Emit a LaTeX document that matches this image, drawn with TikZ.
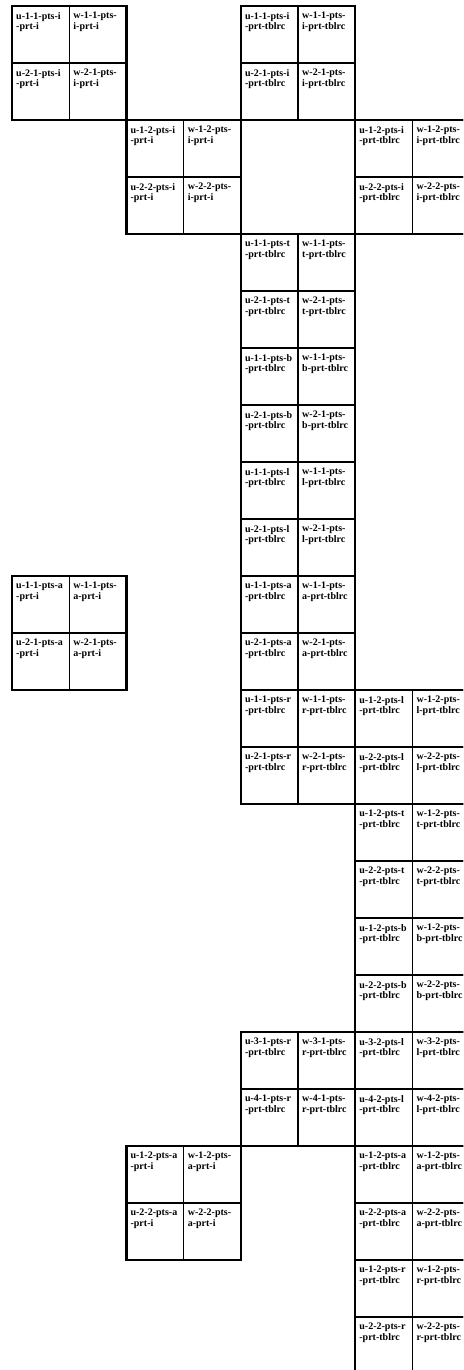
\documentclass[tikz,border=0pt]{standalone}
\usepackage{fontspec}
\setmainfont{Liberation Serif}
\usetikzlibrary{positioning}

\begin{document}
\begin{tikzpicture}[x=1pt, y=-1pt, node distance=0pt,
  cell/.style={draw, line width=1.4pt, minimum width=57.2pt, minimum height=57pt,
               inner sep=0pt, outer sep=0pt},
  frame/.style={line width=2.2pt},
  tag/.style={anchor=north west, inner sep=0pt, align=left, xshift=4pt, yshift=-6pt,
              font=\fontsize{10}{10.3}\selectfont\bfseries}]
  \useasboundingbox (0,0) rectangle (463,1370);
  \clip (0,0) rectangle (463,1370);
  % column/row of the block, the two u-w indices, the u-w column, the pts and prt tags
  \foreach \c/\r/\a/\b/\k/\x/\p [count=\n] in {
      0/0/1/2/1/i/i, 4/0/1/2/1/i/tblrc, 2/2/1/2/2/i/i, 6/2/1/2/2/i/tblrc,
      4/4/1/2/1/t/tblrc, 4/6/1/2/1/b/tblrc, 4/8/1/2/1/l/tblrc, 4/10/1/2/1/a/tblrc,
      0/10/1/2/1/a/i, 4/12/1/2/1/r/tblrc, 6/12/1/2/2/l/tblrc, 6/14/1/2/2/t/tblrc,
      6/16/1/2/2/b/tblrc, 4/18/3/4/1/r/tblrc, 6/18/3/4/2/l/tblrc, 2/20/1/2/2/a/i,
      6/20/1/2/2/a/tblrc, 6/22/1/2/2/r/tblrc}{
    \node[cell, anchor=north west] (ul\n) at ({12+57.2*\c},{6+57*\r}) {};
    \node[cell, right=0pt of ul\n] (ur\n) {};
    \node[cell, below=0pt of ul\n] (ll\n) {};
    \node[cell, right=0pt of ll\n] (lr\n) {};
    \draw[frame] (ul\n.north west) rectangle (lr\n.south east);
    \node[tag] at (ul\n.north west) {u-\a-\k-pts-\x\\-prt-\p};
    \node[tag] at (ur\n.north west) {w-\a-\k-pts-\\\x-prt-\p};
    \node[tag] at (ll\n.north west) {u-\b-\k-pts-\x\\-prt-\p};
    \node[tag] at (lr\n.north west) {w-\b-\k-pts-\\\x-prt-\p};
  }
\end{tikzpicture}
\end{document}
